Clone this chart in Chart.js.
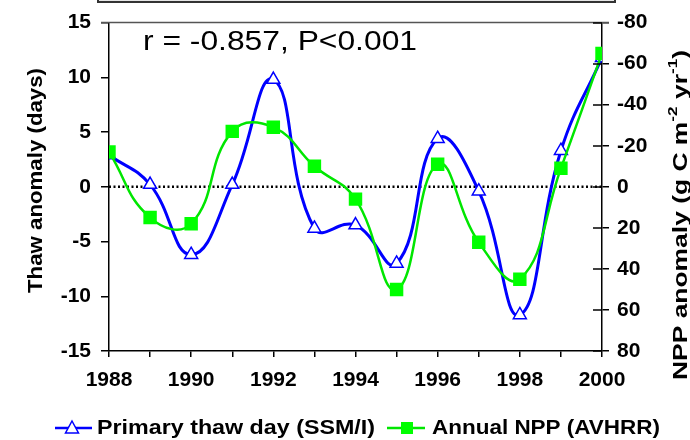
<!DOCTYPE html>
<html>
<head>
<meta charset="utf-8">
<script src="https://cdn.jsdelivr.net/npm/chart.js@4.4.1/dist/chart.umd.min.js"></script>
<style>
  html,body{margin:0;padding:0;background:#fff}
  #wrap{width:690px;height:440px;position:relative}
</style>
</head>
<body>
<div id="wrap"><canvas id="c" width="690" height="440"></canvas></div>
<script>
// data
const years = [1988,1989,1990,1991,1992,1993,1994,1995,1996,1997,1998,1999,2000];
const thawDays = [2.9,0.2,-6.2,0.2,9.8,-3.8,-3.5,-7.0,4.4,-0.4,-11.7,3.3,11.8];
const nppAnomaly = [-17,15,18,-27,-29,-10,6,50,-11,27,45,-9,-65];
const leftTicks = [-15,-10,-5,0,5,10,15];
const rightTicks = [-80,-60,-40,-20,0,20,40,60,80];

const FONT = '"Liberation Sans", Arial, sans-serif';
const BLUE = '#0000ff';
const GREEN = '#00e600';

const legendItems = [
  {label:'Primary thaw day (SSM/I)', color:BLUE, style:'triangle'},
  {label:'Annual NPP (AVHRR)', color:GREEN, style:'rect'}
];

function drawMarker(ctx, style, x, y, color){
  ctx.save();
  if(style==='triangle'){
    ctx.fillStyle='#fff'; ctx.strokeStyle=color; ctx.lineWidth=1.5;
    ctx.beginPath();
    ctx.moveTo(x, y-7); ctx.lineTo(x+6.5, y+5); ctx.lineTo(x-6.5, y+5); ctx.closePath();
    ctx.fill(); ctx.stroke();
  } else {
    ctx.fillStyle='#00ff00';
    ctx.fillRect(x-6, y-6, 12, 12);
  }
  ctx.restore();
}

// text squeezed/stretched to a given length (the source figure is stretched)
function fitText(ctx, txt, x, y, len){
  const w = ctx.measureText(txt).width;
  ctx.save();
  ctx.translate(x, y); ctx.scale(len/w, 1);
  ctx.fillText(txt, 0, 0);
  ctx.restore();
}

const decor = {
  id:'decor',
  beforeDraw(chart){
    const ctx = chart.ctx;
    // cut-off frame at the very top
    ctx.save();
    ctx.fillStyle='#e6e6e6'; ctx.strokeStyle='#333'; ctx.lineWidth=2;
    ctx.fillRect(98,-10,517,12); ctx.strokeRect(98,-10,517,12);
    ctx.restore();
  },
  afterDraw(chart){
    const ctx = chart.ctx, a = chart.chartArea;
    const yR = chart.scales.yR;
    ctx.save();
    // top border
    ctx.strokeStyle='#555'; ctx.lineWidth=1.5;
    ctx.beginPath(); ctx.moveTo(a.left-8, a.top); ctx.lineTo(a.right+7, a.top); ctx.stroke();
    // inner ticks of right axis
    ctx.strokeStyle='#000'; ctx.lineWidth=1.5;
    rightTicks.forEach(v=>{
      const py = Math.round(yR.getPixelForValue(v));
      ctx.beginPath(); ctx.moveTo(a.right-9, py); ctx.lineTo(a.right, py); ctx.stroke();
    });
    // annotation
    ctx.fillStyle='#000';
    ctx.font = '28px ' + FONT;
    ctx.textBaseline='alphabetic'; ctx.textAlign='left';
    fitText(ctx, 'r = -0.857, P<0.001', 143, 50, 274);
    // left title
    ctx.font = 'bold 20px ' + FONT;
    ctx.save();
    ctx.translate(36, 293); ctx.rotate(-Math.PI/2);
    ctx.textAlign='left'; ctx.textBaseline='middle';
    fitText(ctx, 'Thaw anomaly (days)', 0, 0, 225);
    ctx.restore();
    // right title with superscripts
    const parts = [
      {t:'NPP anomaly (g C m', sup:false},
      {t:'-2', sup:true},
      {t:' yr', sup:false},
      {t:'-1', sup:true},
      {t:')', sup:false}
    ];
    const fN = 'bold 20px ' + FONT, fS = 'bold 13px ' + FONT;
    let total = 0;
    parts.forEach(p=>{ ctx.font = p.sup?fS:fN; p.w = ctx.measureText(p.t).width; total += p.w; });
    const rLen = 330, k = rLen/total;
    ctx.save();
    ctx.translate(681, 380); ctx.rotate(-Math.PI/2); ctx.scale(k, 1);
    ctx.textAlign='left'; ctx.textBaseline='middle';
    let x = 0;
    parts.forEach(p=>{
      ctx.font = p.sup?fS:fN;
      ctx.fillText(p.t, x, p.sup ? -8 : 0);
      x += p.w;
    });
    ctx.restore();
    // legend
    ctx.font = 'bold 21px ' + FONT;
    ctx.textBaseline='middle'; ctx.textAlign='left';
    const ly = 428;
    const spots = [{x0:55,x1:92,mx:72,tx:97,len:278},{x0:387,x1:425,mx:407,tx:432,len:228}];
    legendItems.forEach((it,i)=>{
      const s = spots[i];
      ctx.strokeStyle = it.color; ctx.lineWidth = 2.5;
      ctx.beginPath(); ctx.moveTo(s.x0, ly); ctx.lineTo(s.x1, ly); ctx.stroke();
      drawMarker(ctx, it.style, s.mx, ly, it.color);
      ctx.fillStyle='#000';
      fitText(ctx, it.label, s.tx, ly, s.len);
    });
    ctx.restore();
  }
};

new Chart(document.getElementById('c'), {
  type:'line',
  data:{
    datasets:[
      {
        label:'zero', data:[{x:years[0],y:0},{x:years[years.length-1],y:0}],
        yAxisID:'yL', borderColor:'#000', borderWidth:2.5, borderDash:[2,2.5],
        pointRadius:0, tension:0, order:3
      },
      {
        label:legendItems[0].label,
        data:years.map((y,i)=>({x:y,y:thawDays[i]})),
        yAxisID:'yL', borderColor:BLUE, borderWidth:3, tension:0.45,
        pointStyle:'triangle', pointRadius:7.5, pointBorderWidth:1.5,
        pointBackgroundColor:'#fff', pointBorderColor:BLUE, order:2
      },
      {
        label:legendItems[1].label,
        data:years.map((y,i)=>({x:y,y:nppAnomaly[i]})),
        yAxisID:'yR', borderColor:GREEN, borderWidth:2.5, tension:0.45,
        pointStyle:'rect', pointRadius:9.5, pointBorderWidth:0,
        pointBackgroundColor:'#00ff00', pointBorderColor:'#00ff00', order:1
      }
    ]
  },
  options:{
    responsive:false, animation:false,
    layout:{padding:{top:17,left:0,right:0,bottom:0}},
    plugins:{legend:{display:false}, tooltip:{enabled:false}},
    scales:{
      x:{
        type:'linear', min:1988, max:2000,
        afterFit(s){ s.height = 89; },
        border:{display:true,color:'#000',width:1.5},
        grid:{drawOnChartArea:false, drawTicks:true, tickLength:6, color:'#000', lineWidth:1.5},
        ticks:{stepSize:1, autoSkip:false, maxRotation:0, padding:11,
          color:'#000', font:{family:FONT, size:21, weight:'bold'},
          callback:v=> v%2===0 ? String(v) : ''}
      },
      yL:{
        position:'left', min:-15, max:15,
        afterFit(s){ s.width = 109; },
        afterBuildTicks(s){ s.ticks = leftTicks.map(v=>({value:v})); },
        border:{display:true,color:'#000',width:1.5},
        grid:{drawOnChartArea:false, tickLength:8, color:'#000', lineWidth:1.5},
        ticks:{padding:10, color:'#000', font:{family:FONT, size:21, weight:'bold'}}
      },
      yR:{
        position:'right', min:-80, max:80, reverse:true,
        afterFit(s){ s.width = 88; },
        afterBuildTicks(s){ s.ticks = rightTicks.map(v=>({value:v})); },
        border:{display:true,color:'#000',width:1.5},
        grid:{drawOnChartArea:false, tickLength:7, color:'#000', lineWidth:1.5},
        ticks:{padding:8, color:'#000', font:{family:FONT, size:21, weight:'bold'}}
      }
    }
  },
  plugins:[decor]
});
</script>
</body>
</html>
